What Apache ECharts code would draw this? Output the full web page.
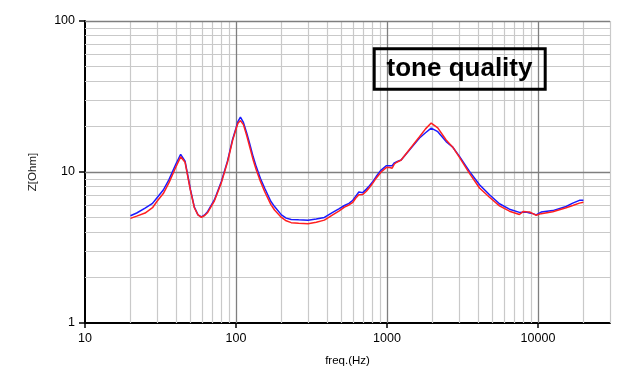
<!DOCTYPE html>
<html>
<head>
<meta charset="utf-8">
<script src="https://cdn.jsdelivr.net/npm/echarts@6/dist/echarts.min.js"></script>
<style>html,body{margin:0;padding:0;background:#fff;}#c{width:639px;height:383px;}</style>
</head>
<body>
<div id="c"></div>
<script>
var freq = [20, 22, 25, 28, 30, 33, 36, 40, 43, 46, 50, 53, 56, 59, 62, 65, 72, 80, 88, 95, 100, 103, 107, 112, 118, 123, 130, 136, 145, 155, 170, 180, 200, 215, 232, 260, 300, 340, 385, 437, 480, 523, 560, 594, 620, 651, 692, 730, 766, 810, 848, 915, 988, 1040, 1082, 1120, 1161, 1241, 1409, 1642, 1800, 1963, 2170, 2465, 2728, 3021, 3519, 4100, 4775, 5560, 6475, 7539, 8000, 8360, 8800, 9250, 9730, 10500, 12530, 15370, 17000, 18820, 20000];
var blueZ = [5.13, 5.35, 5.77, 6.2, 6.75, 7.6, 8.9, 11.3, 13.1, 11.8, 7.6, 5.85, 5.2, 5.05, 5.2, 5.48, 6.55, 8.65, 11.9, 16.5, 19.5, 21.6, 23.1, 21.3, 18.0, 15.5, 12.6, 10.9, 9.1, 7.8, 6.4, 5.9, 5.2, 4.95, 4.85, 4.82, 4.79, 4.88, 5.0, 5.4, 5.7, 6.0, 6.2, 6.5, 6.9, 7.37, 7.3, 7.7, 8.1, 8.7, 9.33, 10.3, 11.0, 11.0, 11.0, 11.5, 11.7, 12.0, 14.0, 16.8, 18.2, 19.5, 18.5, 15.9, 14.6, 12.7, 10.1, 8.23, 7.07, 6.16, 5.67, 5.4, 5.42, 5.43, 5.35, 5.3, 5.2, 5.43, 5.55, 5.91, 6.22, 6.49, 6.49];
var redZ = [4.93, 5.1, 5.35, 5.8, 6.4, 7.2, 8.5, 10.8, 12.6, 11.6, 7.5, 5.8, 5.2, 5.0, 5.15, 5.4, 6.45, 8.5, 11.7, 16.2, 19.2, 21.0, 21.9, 20.6, 17.3, 14.8, 12.0, 10.4, 8.7, 7.4, 6.1, 5.6, 5.0, 4.75, 4.62, 4.57, 4.54, 4.65, 4.8, 5.2, 5.5, 5.85, 6.05, 6.3, 6.7, 7.06, 7.1, 7.45, 7.9, 8.5, 9.1, 10.0, 10.7, 10.7, 10.6, 11.3, 11.6, 12.0, 14.1, 17.1, 19.3, 21.1, 19.6, 16.3, 14.6, 12.5, 9.8, 7.83, 6.8, 5.97, 5.5, 5.23, 5.48, 5.45, 5.43, 5.3, 5.17, 5.3, 5.45, 5.8, 6.0, 6.22, 6.3];

var xTickValues = [10, 100, 1000, 10000];
var yTickValues = [1, 10, 100];
var majorGridX = [100, 1000, 10000];
var minorGridX = [20, 30, 40, 50, 60, 70, 80, 90, 200, 300, 400, 500, 600, 700, 800, 900, 2000, 3000, 4000, 5000, 6000, 7000, 8000, 9000, 20000, 30000];
var majorGridY = [10, 100];
var minorGridY = [2, 3, 4, 5, 6, 7, 8, 9, 20, 30, 40, 50, 60, 70, 80, 90];

var titleText = 'tone quality';
var xName = 'freq.(Hz)';
var yName = 'Z[Ohm]';

function pairs(xs, ys) { return xs.map(function (x, i) { return [x, ys[i]]; }); }
function plain(v) { return String(Math.round(v)); }

var minorStyle = { color: '#c9c9c9', width: 1.2, type: 'solid' };
var majorStyle = { color: '#7f7f7f', width: 1.3, type: 'solid' };
var gridLines = [];
minorGridX.forEach(function (v) { gridLines.push({ xAxis: v, lineStyle: minorStyle }); });
minorGridY.forEach(function (v) { gridLines.push({ yAxis: v, lineStyle: minorStyle }); });
majorGridX.forEach(function (v) { gridLines.push({ xAxis: v, lineStyle: majorStyle }); });
majorGridY.forEach(function (v) { gridLines.push({ yAxis: v, lineStyle: majorStyle }); });

var labelFont = '"Liberation Sans", Arial, sans-serif';
var chart = echarts.init(document.getElementById('c'), null, { renderer: 'canvas' });
chart.setOption({
  animation: false,
  backgroundColor: '#fff',
  grid: { left: 85, top: 21, right: 29, bottom: 60, containLabel: false },
  xAxis: {
    type: 'log', logBase: 10, min: 10, max: 30000,
    name: xName, nameLocation: 'middle', nameGap: 32,
    nameTextStyle: { color: '#000', fontSize: 11.5, fontFamily: labelFont },
    axisLine: { show: true, onZero: false, lineStyle: { color: '#000', width: 2 } },
    axisTick: { show: true, inside: false, length: 5, customValues: xTickValues, lineStyle: { color: '#000', width: 1.5 } },
    axisLabel: { show: true, margin: 9, customValues: xTickValues, color: '#000', fontSize: 12.5, fontFamily: labelFont, formatter: plain },
    splitLine: { show: false },
    minorTick: { show: false }, minorSplitLine: { show: false }
  },
  yAxis: {
    type: 'log', logBase: 10, min: 1, max: 100,
    name: yName, nameLocation: 'middle', nameGap: 46, nameRotate: 90,
    nameTextStyle: { color: '#222', fontSize: 11.5, fontFamily: labelFont },
    axisLine: { show: true, onZero: false, lineStyle: { color: '#000', width: 2 } },
    axisTick: { show: true, inside: false, length: 6, customValues: yTickValues, lineStyle: { color: '#000', width: 1.5 } },
    axisLabel: { show: true, margin: 10, customValues: yTickValues, color: '#000', fontSize: 12.5, fontFamily: labelFont, formatter: plain },
    splitLine: { show: false },
    minorTick: { show: false }, minorSplitLine: { show: false }
  },
  graphic: [
    { type: 'rect', z: 20, shape: { x: 374.2, y: 48.8, width: 171, height: 40.4 }, style: { fill: 'none', stroke: '#000', lineWidth: 3 } },
    { type: 'text', z: 21, style: { text: titleText, x: 459.5, y: 69.3, align: 'center', verticalAlign: 'middle', fill: '#000', font: 'bold 26px "Liberation Sans", Arial, sans-serif' } }
  ],
  series: [
    {
      type: 'line', name: 'grid', data: [], z: 1, silent: true,
      markLine: { silent: true, symbol: ['none', 'none'], label: { show: false }, animation: false, data: gridLines }
    },
    {
      type: 'line', name: 'blue', data: pairs(freq, blueZ), z: 5, showSymbol: false, symbol: 'none', smooth: false,
      lineStyle: { color: '#1a1aff', width: 1.5 }, itemStyle: { color: '#1a1aff' }
    },
    {
      type: 'line', name: 'red', data: pairs(freq, redZ), z: 6, showSymbol: false, symbol: 'none', smooth: false,
      lineStyle: { color: '#ff2020', width: 1.5 }, itemStyle: { color: '#ff2020' }
    }
  ]
});
</script>
</body>
</html>
